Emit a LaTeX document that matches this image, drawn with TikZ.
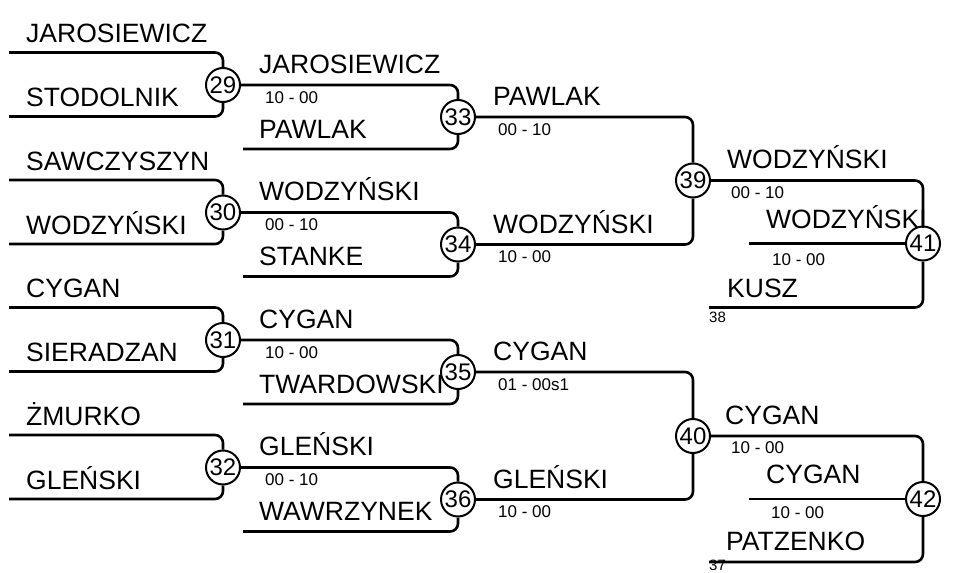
\documentclass[tikz,border=0pt]{standalone}
\usepackage{fontspec}
\setmainfont{Liberation Sans}
\usetikzlibrary{positioning}
\tikzstyle{walka} = [draw, circle, line width=2pt, minimum size=34pt, inner sep=0pt, font=\fontsize{24}{24}\selectfont]
\tikzstyle{imie} = [anchor=base west, inner sep=0pt, font=\fontsize{26.5}{28}\selectfont]
\tikzstyle{wynik} = [anchor=base west, inner sep=0pt, font=\fontsize{17}{18}\selectfont]
\tikzstyle{numer} = [anchor=base west, inner sep=0pt, font=\fontsize{15}{15}\selectfont]
\tikzstyle{linia} = [line width=2.6pt, rounded corners=8pt]

\begin{document}
\begin{tikzpicture}[x=1pt, y=-1pt]
	\useasboundingbox (0,0) rectangle (954,573);
	% walki
	\node[walka] (w29) at (223,85) {29};
	\node[walka] (w30) at (223,212.5) {30};
	\node[walka] (w31) at (223,340) {31};
	\node[walka] (w32) at (223,467.5) {32};
	\node[walka] (w33) at (458,117) {33};
	\node[walka] (w34) at (458,244.5) {34};
	\node[walka] (w35) at (458,372) {35};
	\node[walka] (w36) at (458,499.5) {36};
	\node[walka] (w39) at (693,180.5) {39};
	\node[walka] (w40) at (693,436) {40};
	\node[walka] (w41) at (923,243.5) {41};
	\node[walka] (w42) at (923,499) {42};
	% linie
	\foreach \n/\y in {29/85, 30/212.5, 31/340, 32/467.5} {
		\coordinate (g\n) at (9,\y-32.5);
		\coordinate (d\n) at (9,\y+31.5);
		\draw[linia] (g\n) -| (w\n.north);
		\draw[linia] (d\n) -| (w\n.south);
	}
	\foreach \a/\n/\y in {29/33/117, 30/34/244.5, 31/35/372, 32/36/499.5} {
		\coordinate (d\n) at (243,\y+32);
		\draw[linia] (w\a.east) -| (w\n.north);
		\draw[linia] (d\n) -| (w\n.south);
	}
	\draw[linia] (w33.east) -| (w39.north);
	\draw[linia] (w34.east) -| (w39.south);
	\draw[linia] (w35.east) -| (w40.north);
	\draw[linia] (w36.east) -| (w40.south);
	\coordinate (s41) at (749,243.5);
	\coordinate (d41) at (709,307.5);
	\coordinate (s42) at (749,499);
	\coordinate (d42) at (709,562);
	\draw[linia] (w39.east) -| (w41.north);
	\draw[linia] (s41) -- (w41.west);
	\draw[linia] (w41.south) |- (d41);
	\draw[linia] (w40.east) -| (w42.north);
	\draw[linia] (s42) -- (w42.west);
	\draw[linia] (w42.south) |- (d42);
	% runda 1
	\node[imie] (a1) at (26,42) {JAROSIEWICZ};
	\node[imie] (a2) at (26,106) {STODOLNIK};
	\node[imie] (a3) at (26,170) {SAWCZYSZYN};
	\node[imie] (a4) at (26,234) {WODZYŃSKI};
	\node[imie] (a5) at (26,297.5) {CYGAN};
	\node[imie] (a6) at (26,361.5) {SIERADZAN};
	\node[imie] (a7) at (26,425) {ŻMURKO};
	\node[imie] (a8) at (26,489) {GLEŃSKI};
	% runda 2
	\node[imie] (b1) at (259,73) {JAROSIEWICZ};
	\node[wynik] (b1w) at (265,103) {10 - 00};
	\node[imie] (b2) at (259,138) {PAWLAK};
	\node[imie] (b3) at (259,200.5) {WODZYŃSKI};
	\node[wynik] (b3w) at (265,230.5) {00 - 10};
	\node[imie] (b4) at (259,265.5) {STANKE};
	\node[imie] (b5) at (259,328) {CYGAN};
	\node[wynik] (b5w) at (265,358) {10 - 00};
	\node[imie] (b6) at (259,393) {TWARDOWSKI};
	\node[imie] (b7) at (259,455.5) {GLEŃSKI};
	\node[wynik] (b7w) at (265,485.5) {00 - 10};
	\node[imie] (b8) at (259,520.5) {WAWRZYNEK};
	% runda 3
	\node[imie] (c1) at (493,105) {PAWLAK};
	\node[wynik] (c1w) at (498,135) {00 - 10};
	\node[imie] (c2) at (493,233.5) {WODZYŃSKI};
	\node[wynik] (c2w) at (498,262.5) {10 - 00};
	\node[imie] (c3) at (493,360) {CYGAN};
	\node[wynik] (c3w) at (498,390) {01 - 00s1};
	\node[imie] (c4) at (493,488.5) {GLEŃSKI};
	\node[wynik] (c4w) at (498,517.5) {10 - 00};
	% runda 4
	\node[imie] (e1) at (727,168.5) {WODZYŃSKI};
	\node[wynik] (e1w) at (731,198.5) {00 - 10};
	\node[imie] (e2) at (766,228.5) {WODZYŃSKI};
	\node[wynik] (e2w) at (772,265) {10 - 00};
	\node[imie] (e3) at (727,297) {KUSZ};
	\node[numer] (e3n) at (709,322) {38};
	\node[imie] (f1) at (725,424) {CYGAN};
	\node[wynik] (f1w) at (731,453) {10 - 00};
	\node[imie] (f2) at (766,483) {CYGAN};
	\node[wynik] (f2w) at (771,518) {10 - 00};
	\node[imie] (f3) at (726,550) {PATZENKO};
	\node[numer] (f3n) at (709,570.5) {37};
\end{tikzpicture}
\end{document}
